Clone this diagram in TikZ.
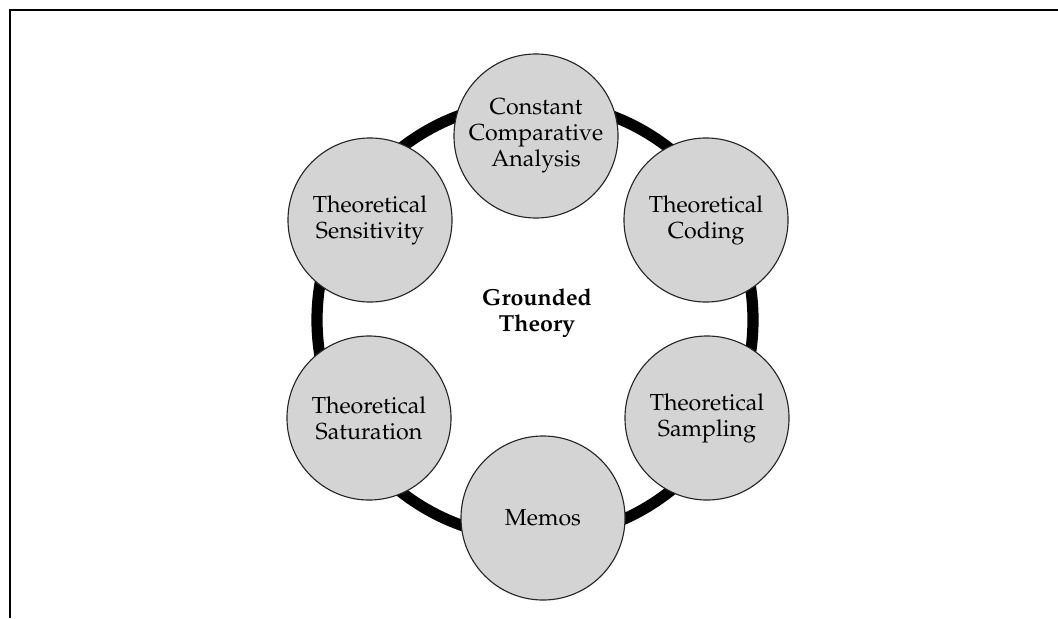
\documentclass[tikz,border=0pt]{standalone}
\usepackage[T1]{fontenc}
\usepackage{mathpazo}
\begin{document}
\begin{tikzpicture}[x=0.025cm,y=-0.025cm,
    idea/.style={circle,draw=black!85,line width=0.8pt,fill=black!17,
      minimum size=4.1cm,inner sep=0pt,align=center,
      font=\fontsize{16.5}{18.5}\selectfont},
    ring/.style={line width=0.28cm}]
    \useasboundingbox (0,0) rectangle (1058,618);
    % Frame
    \draw [line width=0.05cm] (1058,10)--(10,10)--(10,618);

    % Ring
    \coordinate (ctr) at (535,320);
    \draw [ring] (ctr) circle [radius=218];

    % Concepts
    \node [idea] (cca) at (536,136) {Constant\\Comparative\\Analysis};
    \node [idea] (tcod) at (706,220) {Theoretical\\Coding};
    \node [idea] (tsam) at (707,418) {Theoretical\\Sampling};
    \node [idea] (memo) at (543,518) {Memos};
    \node [idea] (tsat) at (369,418) {Theoretical\\Saturation};
    \node [idea] (tsen) at (370,220) {Theoretical\\Sensitivity};

    \node [align=center,font=\bfseries\fontsize{16.5}{18.5}\selectfont] (gt) at (537,313) {Grounded\\Theory};
\end{tikzpicture}
\end{document}
